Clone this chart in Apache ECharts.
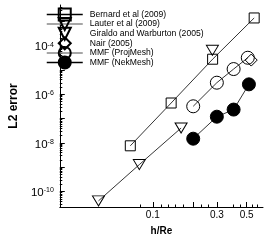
<!DOCTYPE html>
<html><head><meta charset="utf-8">
<script src="https://cdn.jsdelivr.net/npm/echarts@6/dist/echarts.min.js"></script>
<style>html,body{margin:0;padding:0;background:#fff}#c{width:273px;height:241px}</style>
</head><body><div id="c"></div>
<script>
// ---- data (h/Re, L2 error) ----
const bernardX = [0.068, 0.137, 0.279, 0.569];
const bernardY = [7.6e-9, 4.4e-7, 2.8e-5, 1.4e-3];
const lauterX = [0.278];
const lauterY = [6.5e-5];
const giraldoX = [0.0394, 0.0794, 0.1625];
const giraldoY = [4.1e-11, 1.28e-9, 4.1e-8];
const nairX = [0.541];
const nairY = [2.58e-5];
const projX = [0.2, 0.3, 0.4, 0.51];
const projY = [3.22e-7, 3.02e-6, 1.1e-5, 3.22e-5];
const nekX = [0.2, 0.3, 0.4, 0.52];
const nekY = [1.49e-8, 1.2e-7, 2.36e-7, 2.58e-6];
const seriesNames = ['Bernard et al (2009)', 'Lauter et al (2009)', 'Giraldo and Warburton (2005)', 'Nair (2005)', 'MMF (ProjMesh)', 'MMF (NekMesh)'];

// ---- axes ----
const xRange = [0.0203, 0.662];
const yRange = [Math.pow(10, -10.64), Math.pow(10, -2.32)];
const xLabelVals = [0.1, 0.3, 0.5];
const xLabelTexts = ['0.1', '0.3', '0.5'];
const yLabelExps = [-10, -8, -6, -4];
const xMajorTicks = [0.1, 0.2, 0.3, 0.5];
const xMinorTicks = [0.08, 0.115, 0.13, 0.147, 0.168, 0.23, 0.26, 0.4, 0.45, 0.55, 0.6];
const yMajorExps = [-10, -9, -8, -7, -6, -5, -4, -3];

const L = Math.log10;
function pairs(xs, ys) { return xs.map((x, i) => [L(x), L(ys[i])]); }
function minorTicks(lo, hi) {
  const out = [];
  for (let d = Math.floor(lo) - 1; d <= Math.ceil(hi); d++) {
    for (let k = 2; k <= 9; k++) {
      const v = d + L(k);
      if (v > lo && v < hi) out.push(v);
    }
  }
  return out;
}
const xMin = L(xRange[0]), xMax = L(xRange[1]);
const yMin = L(yRange[0]), yMax = L(yRange[1]);
const FONT = 'Liberation Sans';

const sym = { color: 'transparent', borderColor: '#000', borderWidth: 1 };
const line = { color: '#000', width: 0.8 };

function mk(name, xs, ys, symbol, size, extra) {
  return Object.assign({
    name: name, type: 'line', data: pairs(xs, ys), symbol: symbol, symbolSize: size,
    itemStyle: Object.assign({}, sym), lineStyle: Object.assign({}, line),
    animation: false, z: 3
  }, extra || {});
}

const chart = echarts.init(document.getElementById('c'), null, { renderer: 'canvas' });
chart.setOption({
  animation: false,
  grid: { left: 39, top: 5, right: 10, bottom: 28 },
  legend: {
    left: 46, top: 7.5, padding: 0, orient: 'vertical', itemWidth: 36, itemHeight: 15, itemGap: -4.4,
    selectedMode: false,
    textStyle: { fontSize: 8.6, fontFamily: FONT, color: '#000', padding: [0, 0, 0, 2] },
    lineStyle: { width: 1.5 },
    data: [
      { name: seriesNames[0] },
      { name: seriesNames[1], lineStyle: { color: '#888' } },
      { name: seriesNames[2], lineStyle: { color: 'transparent' } },
      { name: seriesNames[3], lineStyle: { color: 'transparent' } },
      { name: seriesNames[4], lineStyle: { color: '#888' } },
      { name: seriesNames[5] }
    ]
  },
  xAxis: [{
    type: 'value', min: xMin, max: xMax,
    axisLine: { lineStyle: { color: '#000', width: 1 } },
    axisTick: { show: true, inside: true, length: 5, customValues: xMajorTicks.map(L), lineStyle: { color: '#000' } },
    axisLabel: {
      customValues: xLabelVals.map(L), fontSize: 10, fontFamily: FONT, color: '#000', margin: 3,
      formatter: v => { let b = 0; xLabelVals.forEach((x, i) => { if (Math.abs(L(x) - v) < Math.abs(L(xLabelVals[b]) - v)) b = i; }); return xLabelTexts[b]; }
    },
    splitLine: { show: false },
    name: 'h/Re', nameLocation: 'middle', nameGap: 19,
    nameTextStyle: { fontWeight: 'bold', fontSize: 10, fontFamily: FONT, color: '#000' }
  }, {
    type: 'value', min: xMin, max: xMax, position: 'bottom',
    axisLine: { show: false },
    axisTick: { show: true, inside: true, length: 2.5, customValues: xMinorTicks.map(L), lineStyle: { color: '#000' } },
    axisLabel: { show: false }, splitLine: { show: false }
  }],
  yAxis: [{
    type: 'value', min: yMin, max: yMax,
    axisLine: { show: true, lineStyle: { color: '#000', width: 1 } },
    axisTick: { show: true, inside: true, length: 5, customValues: yMajorExps, lineStyle: { color: '#000' } },
    axisLabel: {
      customValues: yLabelExps, margin: 6, color: '#000', padding: [3, 0, 0, 0],
      formatter: v => '{b|10}{s|' + Math.round(v) + '}',
      rich: {
        b: { fontSize: 11.5, fontFamily: FONT, color: '#000' },
        s: { fontSize: 7, fontFamily: FONT, color: '#000', verticalAlign: 'top' }
      }
    },
    splitLine: { show: false },
    name: 'L2 error', nameLocation: 'middle', nameGap: 31, nameRotate: 90,
    nameTextStyle: { fontWeight: 'bold', fontSize: 12, fontFamily: FONT, color: '#000' }
  }, {
    type: 'value', min: yMin, max: yMax, position: 'left',
    axisLine: { show: false },
    axisTick: { show: true, inside: true, length: 2.5, customValues: minorTicks(yMin, yMax), lineStyle: { color: '#000' } },
    axisLabel: { show: false }, splitLine: { show: false }
  }],
  series: [
    mk(seriesNames[0], bernardX, bernardY, 'rect', 10),
    mk(seriesNames[1], lauterX, lauterY, 'triangle', [12, 10], { symbolRotate: 180 }),
    mk(seriesNames[2], giraldoX, giraldoY, 'triangle', [12, 10], { symbolRotate: 180 }),
    mk(seriesNames[3], nairX, nairY, 'diamond', 12),
    mk(seriesNames[4], projX, projY, 'circle', 13),
    mk(seriesNames[5], nekX, nekY, 'circle', 13, { itemStyle: { color: '#000', borderColor: '#000', borderWidth: 1 } })
  ]
});
</script>
</body></html>
